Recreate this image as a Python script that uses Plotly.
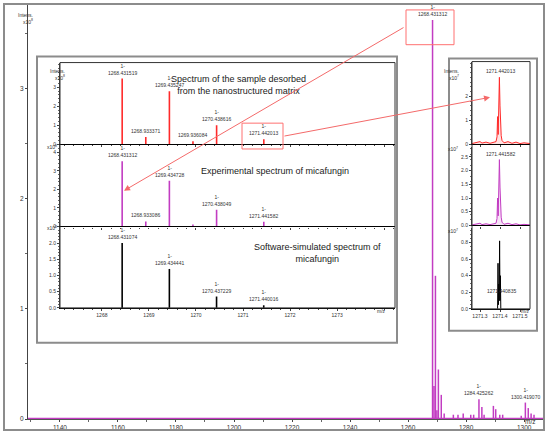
import plotly.graph_objects as go

W, H = 550, 438


def px(x):
    return x / W


def py(y):
    return 1 - y / H


# full spectrum (experimental), intensities x10^8
main_mz = [1268.431312, 1268.93, 1269.43, 1269.94, 1270.44, 1271.44, 1272.44,
           1275.6, 1277.2, 1279.0, 1281.6, 1282.6, 1284.425262, 1285.43, 1286.2,
           1289.4, 1290.2, 1291.6, 1292.6, 1299.0, 1300.41907, 1301.42, 1302.4, 1303.4]
main_int = [3.62, 0.30, 1.30, 0.08, 0.45, 0.22, 0.05,
            0.04, 0.04, 0.05, 0.04, 0.04, 0.18, 0.11, 0.04,
            0.12, 0.09, 0.04, 0.04, 0.03, 0.15, 0.10, 0.05, 0.04]

# zoomed panels, intensities x10^8
sample_mz = [1268.431519, 1268.933371, 1269.435247, 1269.936084, 1270.438616, 1271.442013]
sample_int = [3.47, 0.37, 2.80, 0.15, 1.00, 0.25]
exp_mz = [1268.431312, 1268.933086, 1269.434728, 1269.9355, 1270.438049, 1271.441582]
exp_int = [3.52, 0.27, 2.46, 0.10, 0.90, 0.25]
sim_mz = [1268.431074, 1269.434441, 1270.437229, 1271.440016]
sim_int = [2.00, 1.20, 0.35, 0.08]

# profile around 1271.44, intensities x10^7
prof_mz = [1271.26, 1271.28, 1271.30, 1271.31, 1271.33, 1271.35, 1271.37, 1271.38,
           1271.385, 1271.388, 1271.391, 1271.394, 1271.397, 1271.400, 1271.403,
           1271.406, 1271.41, 1271.42, 1271.44, 1271.46, 1271.48, 1271.50, 1271.52, 1271.55]
prof_sample = [0.02, 0.05, 0.10, 0.04, 0.08, 0.03, 0.06, 0.10,
               0.30, 1.15, 0.40, 1.50, 2.80, 1.60, 0.60,
               0.35, 0.15, 0.05, 0.10, 0.03, 0.08, 0.02, 0.05, 0.02]
prof_exp = [0.02, 0.04, 0.08, 0.03, 0.06, 0.03, 0.05, 0.08,
            0.25, 1.00, 0.35, 1.30, 2.40, 1.40, 0.50,
            0.30, 0.12, 0.04, 0.08, 0.03, 0.06, 0.02, 0.04, 0.02]
sim_prof_mz = [1271.385, 1271.388, 1271.390, 1271.392, 1271.394, 1271.396, 1271.398,
               1271.400, 1271.402, 1271.404, 1271.406]
sim_prof_int = [0.0, 0.0, 0.55, 0.05, 0.30, 0.10, 0.82, 0.10, 0.40, 0.0, 0.0]

MAG = "#c23cc2"
RED = "#ff2a2a"
FONT = "Liberation Sans"


def sticks(mz, inten):
    xs, ys = [], []
    for m, i in zip(mz, inten):
        xs += [m, m, None]
        ys += [0, i, None]
    return xs, ys


fig = go.Figure()

x, y = sticks(main_mz, main_int)
fig.add_scatter(x=[1129, 1306.5], y=[0.005, 0.005], mode="lines",
                line=dict(color=MAG, width=1.5), xaxis="x", yaxis="y")
fig.add_scatter(x=x, y=y, mode="lines", line=dict(color=MAG, width=1.5),
                xaxis="x", yaxis="y")

for mz, it, col, n in [(sample_mz, sample_int, RED, 2),
                       (exp_mz, exp_int, MAG, 3),
                       (sim_mz, sim_int, "black", 4)]:
    x, y = sticks(mz, it)
    fig.add_scatter(x=x, y=y, mode="lines", line=dict(color=col, width=1.6),
                    xaxis="x%d" % n, yaxis="y%d" % n)

fig.add_scatter(x=prof_mz, y=prof_sample, mode="lines", fill="tozeroy",
                fillcolor="rgba(255,60,60,0.15)", line=dict(color=RED, width=1),
                xaxis="x5", yaxis="y5")
fig.add_scatter(x=prof_mz, y=prof_exp, mode="lines", fill="tozeroy",
                fillcolor="rgba(200,60,200,0.15)", line=dict(color=MAG, width=1),
                xaxis="x6", yaxis="y6")
fig.add_scatter(x=sim_prof_mz, y=sim_prof_int, mode="lines",
                line=dict(color="black", width=1), xaxis="x7", yaxis="y7")

tf = dict(family=FONT, size=5, color="#333")


def xax(dom, rng, anchor, labels=False, **kw):
    d = dict(domain=dom, range=rng, anchor=anchor, showgrid=False, zeroline=False,
             showline=True, linecolor="black", linewidth=1.2, ticks="outside",
             ticklen=2, tickcolor="#444", tickfont=tf, showticklabels=labels)
    d.update(kw)
    return d


def yax(dom, rng, anchor, vals, fmt="", **kw):
    d = dict(domain=dom, range=rng, anchor=anchor, showgrid=False, zeroline=False,
             showline=True, linecolor="#444", linewidth=1, ticks="outside",
             ticklen=2, tickcolor="#444", tickfont=tf, tickvals=vals,
             tickformat=fmt, minor=dict(ticks="outside", ticklen=1, tickcolor="#666"))
    d.update(kw)
    return d


L_X = [px(60), px(395)]
R_X = [px(472), px(530)]
L_RNG = [1267.11, 1274.23]
R_RNG = [1271.26, 1271.55]

fig.update_layout(
    width=W, height=H, margin=dict(l=0, r=0, t=0, b=0),
    paper_bgcolor="white", plot_bgcolor="rgba(0,0,0,0)", showlegend=False,
    font=dict(family=FONT),
    xaxis=xax([px(28), px(543)], [1129, 1306.5], "y", True,
              tickvals=list(range(1140, 1301, 20)), linecolor="#555",
              tickfont=dict(family=FONT, size=6.5, color="#333"),
              minor=dict(ticks="outside", ticklen=2, dtick=10, tickcolor="#666")),
    yaxis=yax([py(422), py(4)], [0, 3.766], "x", [0, 1, 2, 3],
              tickfont=dict(family=FONT, size=6.5, color="#333"),
              minor=dict(ticks="outside", ticklen=2, dtick=0.5, tickcolor="#666")),
    xaxis2=xax(L_X, L_RNG, "y2", minor=dict(ticks="outside", ticklen=1, dtick=0.2)),
    yaxis2=yax([py(145), py(63)], [0, 4.32], "x2", [0, 1, 2, 3]),
    xaxis3=xax(L_X, L_RNG, "y3", minor=dict(ticks="outside", ticklen=1, dtick=0.2)),
    yaxis3=yax([py(228), py(146)], [0, 4.39], "x3", [0, 1, 2, 3, 4]),
    xaxis4=xax(L_X, L_RNG, "y4", True, tickvals=[1268, 1269, 1270, 1271, 1272, 1273],
               minor=dict(ticks="outside", ticklen=1, dtick=0.2)),
    yaxis4=yax([py(310), py(229)], [0, 2.48], "x4", [0, 0.5, 1, 1.5, 2], ".1f"),
    xaxis5=xax(R_X, R_RNG, "y5"),
    yaxis5=yax([py(145), py(62)], [0, 3.46], "x5", [0, 1, 2]),
    xaxis6=xax(R_X, R_RNG, "y6"),
    yaxis6=yax([py(227), py(148)], [0, 2.86], "x6", [0, 0.5, 1, 1.5, 2, 2.5], ".1f"),
    xaxis7=xax(R_X, R_RNG, "y7", True, tickvals=[1271.3, 1271.4, 1271.5],
               ticktext=["1271.3", "1271.4", "1271.5"]),
    yaxis7=yax([py(311), py(230)], [0, 0.97], "x7", [0, 0.2, 0.4, 0.6, 0.8], ".1f"),
)

GRAY = "#8c8c8c"
shapes = [
    dict(type="rect", xref="paper", yref="paper", x0=px(4), x1=px(544), y0=py(433), y1=py(4),
         line=dict(color=GRAY, width=2), layer="above"),
    dict(type="rect", xref="paper", yref="paper", x0=px(37), x1=px(397), y0=py(345), y1=py(57),
         line=dict(color=GRAY, width=2), fillcolor="white", layer="below"),
    dict(type="rect", xref="paper", yref="paper", x0=px(60), x1=px(395), y0=py(310), y1=py(63),
         line=dict(color="#333", width=1)),
    dict(type="rect", xref="paper", yref="paper", x0=px(449), x1=px(537), y0=py(333), y1=py(59),
         line=dict(color=GRAY, width=2), fillcolor="white", layer="below"),
    dict(type="rect", xref="paper", yref="paper", x0=px(472), x1=px(530), y0=py(311), y1=py(62),
         line=dict(color="#333", width=1)),
    dict(type="rect", xref="paper", yref="paper", x0=px(406), x1=px(454), y0=py(45), y1=py(10),
         line=dict(color="#ff7070", width=1)),
    dict(type="rect", xref="paper", yref="paper", x0=px(242), x1=px(283), y0=py(150), y1=py(124),
         line=dict(color="#ff7070", width=1)),
]
fig.update_layout(shapes=shapes)

lab = dict(family=FONT, size=5, color="#333")


def peak_label(xr, yr, m, h, text):
    fig.add_annotation(x=m, y=h, xref=xr, yref=yr, text=text, showarrow=False,
                       yanchor="bottom", yshift=1, font=lab, align="center")


peak_label("x", "y", main_mz[0], main_int[0], "1-<br>1268.431312")
peak_label("x", "y", 1284.425262, 0.18, "1-<br>1284.425262")
peak_label("x", "y", 1300.41907, 0.15, "1-<br>1300.419070")

for m, h, t in zip(sample_mz, sample_int,
                   ["1-<br>1268.431519", "1268.933371", "1-<br>1269.435247",
                    "1269.936084", "1-<br>1270.438616", "1-<br>1271.442013"]):
    peak_label("x2", "y2", m, h, t)
for m, h, t in zip(exp_mz, exp_int,
                   ["1-<br>1268.431312", "1268.933086", "1-<br>1269.434728",
                    "", "1-<br>1270.438049", "1-<br>1271.441582"]):
    if t:
        peak_label("x3", "y3", m, h, t)
for m, h, t in zip(sim_mz, sim_int,
                   ["1-<br>1268.431074", "1-<br>1269.434441",
                    "1-<br>1270.437229", "1-<br>1271.440016"]):
    peak_label("x4", "y4", m, h, t)

peak_label("x5", "y5", 1271.403, 2.8, "1271.442013")
peak_label("x6", "y6", 1271.403, 2.4, "1271.441582")
fig.add_annotation(x=1271.405, y=0.22, xref="x7", yref="y7", text="1271.440835",
                   showarrow=False, font=lab)

# axis captions
small = dict(family=FONT, size=5, color="#333")
for xp, yp, t in [(16, 10, "Intens.<br>x10<sup>8</sup>"), (48, 66, "Intens.<br>x10<sup>8</sup>"),
                  (45, 148, "x10<sup>8</sup>"), (45, 230, "x10<sup>8</sup>"),
                  (461, 66, "Intens.<br>x10<sup>7</sup>"), (460, 150, "x10<sup>7</sup>"),
                  (460, 233, "x10<sup>7</sup>")]:
    fig.add_annotation(x=px(xp), y=py(yp), xref="paper", yref="paper", text=t,
                       showarrow=False, font=small, align="right")
for xp, yp, s in [(537, 430, 6.5), (388, 318, 5), (532, 318, 5)]:
    fig.add_annotation(x=px(xp), y=py(yp), xref="paper", yref="paper", text="m/z",
                       showarrow=False, font=dict(family=FONT, size=s, color="#333"))

title_font = dict(family=FONT, size=9, color="#1a1a1a")
for xp, yp, t in [(238, 73, "Spectrum of the sample desorbed<br>from the nanostructured matrix"),
                  (275, 172, "Experimental spectrum of micafungin"),
                  (317, 255, "Software-simulated spectrum of<br>micafungin")]:
    fig.add_annotation(x=px(xp), y=py(yp), xref="paper", yref="paper", text=t,
                       showarrow=False, font=title_font, align="center")

# red arrows linking the panels
fig.add_annotation(x=px(124), y=py(192), xref="paper", yref="paper", ax=281, ay=-164,
                   text="", showarrow=True, arrowhead=2, arrowsize=1.2, arrowwidth=1,
                   arrowcolor="#f46a6a")
fig.add_annotation(x=px(490), y=py(98), xref="paper", yref="paper", ax=-207, ay=39,
                   text="", showarrow=True, arrowhead=2, arrowsize=1.2, arrowwidth=1,
                   arrowcolor="#f46a6a")

fig.write_html("out.html", config={"displayModeBar": False},
               post_script="document.body.style.margin='0px';")
